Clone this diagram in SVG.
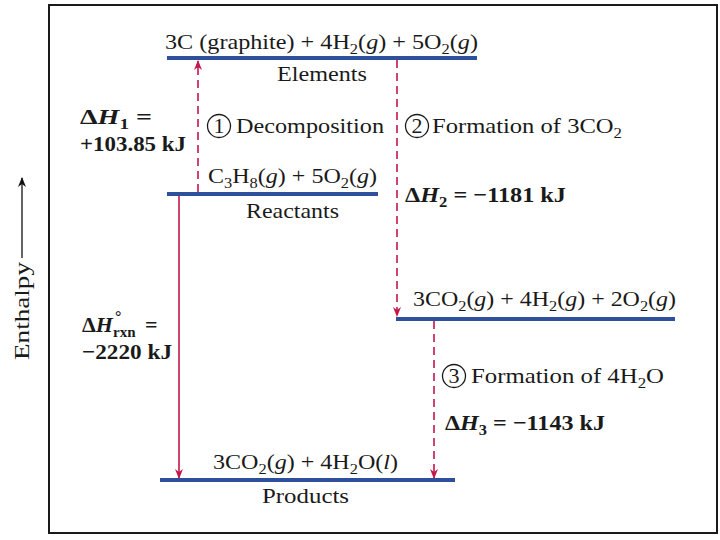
<svg xmlns="http://www.w3.org/2000/svg" width="720" height="540" viewBox="0 0 720 540">
<defs>
<marker id="ah" viewBox="0 0 10 10" refX="9" refY="5" markerWidth="10" markerHeight="10" markerUnits="userSpaceOnUse" orient="auto">
<path d="M0,1 L10,5 L0,9 L3,5 Z" fill="#c4164a"/>
</marker>
<marker id="ahk" viewBox="0 0 10 10" refX="9" refY="5" markerWidth="10" markerHeight="10" markerUnits="userSpaceOnUse" orient="auto">
<path d="M0,1 L10,5 L0,9 L3,5 Z" fill="#111"/>
</marker>
<style>
.t{font-family:"Liberation Serif","Times New Roman",serif;font-size:22px;fill:#1a1a1a}
.b{font-family:"Liberation Serif","Times New Roman",serif;font-size:22px;font-weight:bold;fill:#1a1a1a}
.lvl{stroke:#2e4f9c;stroke-width:4;fill:none}
.arr{stroke:#c4164a;stroke-width:1.6;fill:none;marker-end:url(#ah)}
.dash{stroke-dasharray:8 5}
.circ{fill:none;stroke:#1a1a1a;stroke-width:1.3}
</style>
</defs>
<rect x="0" y="0" width="720" height="540" fill="#fff"/>
<rect x="49" y="5" width="668" height="528" fill="#fff" stroke="#1a1a1a" stroke-width="2"/>

<g id="axis">
<line x1="22" y1="258" x2="22" y2="178" stroke="#111" stroke-width="1.3" marker-end="url(#ahk)"/>
<text class="t" transform="translate(29,360) rotate(-90)" font-size="24" textLength="98" lengthAdjust="spacingAndGlyphs">Enthalpy</text>
</g>

<g id="connectors">
<line class="arr dash" x1="198" y1="192" x2="198" y2="61"/>
<line class="arr dash" x1="397" y1="60" x2="397" y2="316"/>
<line class="arr" x1="179" y1="196" x2="179" y2="478"/>
<line class="arr dash" x1="434" y1="321" x2="434" y2="478"/>
</g>

<g id="elements">
<line class="lvl" x1="167" y1="58" x2="477" y2="58"/>
<text class="t" x="165" y="49" textLength="313" lengthAdjust="spacingAndGlyphs">3C (graphite) + 4H<tspan font-size="15" dy="5">2</tspan><tspan dy="-5">(</tspan><tspan font-style="italic">g</tspan>) + 5O<tspan font-size="15" dy="5">2</tspan><tspan dy="-5">(</tspan><tspan font-style="italic">g</tspan>)</text>
<text class="t" x="277" y="81" textLength="90" lengthAdjust="spacingAndGlyphs">Elements</text>
</g>

<g id="reactants">
<line class="lvl" x1="167" y1="194" x2="378" y2="194"/>
<text class="t" x="208" y="183" textLength="169" lengthAdjust="spacingAndGlyphs">C<tspan font-size="15" dy="5">3</tspan><tspan dy="-5">H</tspan><tspan font-size="15" dy="5">8</tspan><tspan dy="-5">(</tspan><tspan font-style="italic">g</tspan>) + 5O<tspan font-size="15" dy="5">2</tspan><tspan dy="-5">(</tspan><tspan font-style="italic">g</tspan>)</text>
<text class="t" x="246" y="218" textLength="93" lengthAdjust="spacingAndGlyphs">Reactants</text>
</g>

<g id="intermediate">
<line class="lvl" x1="396" y1="319" x2="675" y2="319"/>
<text class="t" x="413" y="306" textLength="263" lengthAdjust="spacingAndGlyphs">3CO<tspan font-size="15" dy="5">2</tspan><tspan dy="-5">(</tspan><tspan font-style="italic">g</tspan>) + 4H<tspan font-size="15" dy="5">2</tspan><tspan dy="-5">(</tspan><tspan font-style="italic">g</tspan>) + 2O<tspan font-size="15" dy="5">2</tspan><tspan dy="-5">(</tspan><tspan font-style="italic">g</tspan>)</text>
</g>

<g id="products">
<line class="lvl" x1="160" y1="480" x2="455" y2="480"/>
<text class="t" x="213" y="469" textLength="185" lengthAdjust="spacingAndGlyphs">3CO<tspan font-size="15" dy="5">2</tspan><tspan dy="-5">(</tspan><tspan font-style="italic">g</tspan>) + 4H<tspan font-size="15" dy="5">2</tspan><tspan dy="-5">O(</tspan><tspan font-style="italic">l</tspan>)</text>
<text class="t" x="262" y="503" textLength="87" lengthAdjust="spacingAndGlyphs">Products</text>
</g>

<g id="step1">
<circle class="circ" cx="219" cy="126" r="11.5"/>
<text class="t" x="219" y="133" text-anchor="middle">1</text>
<text class="t" x="236" y="133" textLength="148" lengthAdjust="spacingAndGlyphs">Decomposition</text>
<text class="b" x="80" y="124" textLength="72" lengthAdjust="spacingAndGlyphs">Δ<tspan font-style="italic">H</tspan><tspan font-size="15" dy="5">1</tspan><tspan dy="-5"> =</tspan></text>
<text class="b" x="80" y="151" textLength="106" lengthAdjust="spacingAndGlyphs">+103.85 kJ</text>
</g>

<g id="step2">
<circle class="circ" cx="417" cy="126" r="11.5"/>
<text class="t" x="417" y="133" text-anchor="middle">2</text>
<text class="t" x="432" y="133" textLength="190" lengthAdjust="spacingAndGlyphs">Formation of 3CO<tspan font-size="15" dy="5">2</tspan></text>
<text class="b" x="405" y="202" textLength="161" lengthAdjust="spacingAndGlyphs">Δ<tspan font-style="italic">H</tspan><tspan font-size="15" dy="5">2</tspan><tspan dy="-5"> = −1181 kJ</tspan></text>
</g>

<g id="step3">
<circle class="circ" cx="454" cy="376" r="11.5"/>
<text class="t" x="454" y="383" text-anchor="middle">3</text>
<text class="t" x="471" y="383" textLength="193" lengthAdjust="spacingAndGlyphs">Formation of 4H<tspan font-size="15" dy="5">2</tspan><tspan dy="-5">O</tspan></text>
<text class="b" x="445" y="430" textLength="160" lengthAdjust="spacingAndGlyphs">Δ<tspan font-style="italic">H</tspan><tspan font-size="15" dy="5">3</tspan><tspan dy="-5"> = −1143 kJ</tspan></text>
</g>

<g id="overall">
<text class="b" x="82" y="332">Δ<tspan font-style="italic">H</tspan><tspan x="115" y="322" font-size="16">°</tspan><tspan x="113" y="337" font-size="15">rxn</tspan><tspan x="145" y="332">=</tspan></text>
<text class="b" x="82" y="359" textLength="90" lengthAdjust="spacingAndGlyphs">−2220 kJ</text>
</g>
</svg>
